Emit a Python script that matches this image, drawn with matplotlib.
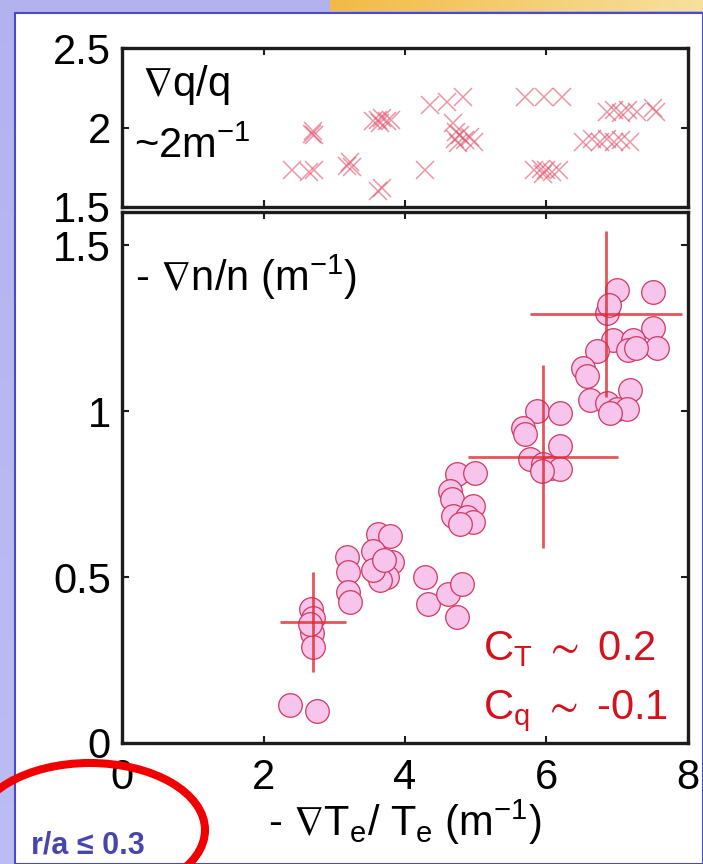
import numpy as np
import matplotlib
matplotlib.use("Agg")
import matplotlib.pyplot as plt
from matplotlib.patches import Ellipse, Rectangle

plt.rcParams['font.family'] = ['Liberation Sans', 'DejaVu Sans']
plt.rcParams['mathtext.fontset'] = 'custom'
plt.rcParams['mathtext.rm'] = 'Liberation Sans'
plt.rcParams['mathtext.it'] = 'Liberation Sans:italic'
plt.rcParams['mathtext.bf'] = 'Liberation Sans:bold'
plt.rcParams['mathtext.fallback'] = 'stixsans'

# ---- density-gradient scan (circles) ----
grad_te = [2.37, 2.76,
           2.67, 2.70, 2.68, 2.70, 2.66,
           3.18, 3.20, 3.20, 3.22,
           3.62, 3.79, 3.55, 3.81, 3.62, 3.74, 3.65, 3.55, 3.70,
           4.28, 4.33, 4.61, 4.80, 4.73,
           4.73, 4.99, 4.64, 4.66, 4.96, 4.68, 4.87, 4.96, 4.78,
           5.86, 6.19, 5.67, 5.69, 6.19, 5.77, 5.95, 6.07, 6.19, 5.93,
           6.99, 7.51, 6.85, 6.88, 7.51, 6.94, 7.22, 6.71, 7.15, 7.56,
           7.27, 6.52, 6.57, 6.61, 7.18, 6.85, 6.99, 7.14, 6.90]
grad_n = [0.114, 0.096,
          0.405, 0.376, 0.33, 0.29, 0.36,
          0.56, 0.515, 0.455, 0.425,
          0.63, 0.625, 0.58, 0.545, 0.51, 0.50, 0.49, 0.52, 0.55,
          0.50, 0.42, 0.45, 0.48, 0.38,
          0.81, 0.815, 0.76, 0.735, 0.715, 0.685, 0.68, 0.665, 0.66,
          1.00, 0.995, 0.95, 0.93, 0.895, 0.855, 0.84, 0.83, 0.825, 0.82,
          1.365, 1.36, 1.295, 1.32, 1.25, 1.215, 1.215, 1.18, 1.185, 1.19,
          1.19, 1.13, 1.105, 1.035, 1.065, 1.025, 1.005, 1.005, 0.995]

# representative error bars
err_te = [2.70, 5.95, 6.84]
err_n = [0.364, 0.863, 1.294]
err_te_width = [0.47, 1.06, 1.07]
err_n_width = [0.15, 0.275, 0.25]

# ---- q-gradient scan (crosses) ----
q_te = [2.40, 2.65, 2.72,
        2.68, 2.70, 2.72,
        3.18, 3.22, 3.25,
        3.55, 3.62, 3.68, 3.75, 3.80, 3.65,
        3.62, 3.68,
        4.28,
        4.35, 4.60, 4.82,
        4.68, 4.72, 4.70, 4.78, 4.85, 4.92, 4.98, 4.75,
        5.70, 5.96, 6.22,
        5.82, 5.92, 6.00, 6.08, 6.18, 5.95,
        6.52, 6.65, 6.76, 6.85, 6.95, 7.05, 7.18,
        6.85, 6.95, 7.05, 7.15, 7.28, 7.50, 7.55]
q_val = [1.73, 1.72, 1.73,
         1.96, 1.98, 1.95,
         1.76, 1.78, 1.75,
         2.04, 2.05, 2.06, 2.04, 2.05, 2.03,
         1.60, 1.62,
         1.735,
         2.14, 2.16, 2.19,
         2.03, 1.97, 1.93, 1.95, 1.92, 1.94, 1.91, 1.90,
         2.19, 2.19, 2.19,
         1.73, 1.74, 1.73, 1.72, 1.73, 1.71,
         1.91, 1.93, 1.91, 1.93, 1.91, 1.92, 1.91,
         2.10, 2.11, 2.09, 2.11, 2.10, 2.12, 2.10]

x_ticks = [0, 2, 4, 6, 8]
x_tick_labels = ['0', '2', '4', '6', '8']
q_ticks = [1.5, 2, 2.5]
q_tick_labels = ['1.5', '2', '2.5']
n_ticks = [0, 0.5, 1, 1.5]
n_tick_labels = ['0', '0.5', '1', '1.5']

W, H = 703, 864
fig = plt.figure(figsize=(W / 100, H / 100), dpi=100)

# ---- slide background ----
bg = fig.add_axes([0, 0, 1, 1], zorder=-10)
bg.set_xlim(0, W)
bg.set_ylim(H, 0)
bg.axis('off')
yy = np.linspace(0, 1, 200)[:, None]
lav = np.ones((200, 1, 3)) * np.array([0.70, 0.70, 0.94]) + yy[..., None] * np.array([0.04, 0.04, 0.02])
bg.imshow(np.clip(lav, 0, 1), extent=[0, W, H, 0], aspect='auto', zorder=0)
xx = np.linspace(0, 1, 200)[None, :, None]
gold = np.array([0.95, 0.73, 0.27]) * (1 - xx) + np.array([0.97, 0.88, 0.62]) * xx
bg.imshow(gold, extent=[330, W, 11, 0], aspect='auto', zorder=1)
bg.add_patch(Rectangle((15, 13), W - 15, H - 13, facecolor='white',
                       edgecolor='#4a4ac4', linewidth=1.5, zorder=2))

L, R = 122 / W, 688 / W
ax_q = fig.add_axes([L, 1 - 207 / H, R - L, (207 - 48) / H])
ax_n = fig.add_axes([L, 1 - 743 / H, R - L, (743 - 212) / H])

for ax in (ax_q, ax_n):
    ax.set_facecolor('white')
    for s in ax.spines.values():
        s.set_linewidth(2.4)
        s.set_color('#1c1c1c')
    ax.tick_params(direction='in', length=5, width=1.5, color='#1c1c1c',
                   top=True, right=True, labelsize=30, pad=8)
    ax.set_xlim(0, 8)
    ax.set_xticks(x_ticks)

# upper panel: q gradient
ax_q.plot(q_te, q_val, linestyle='none', marker='x', markersize=12.5,
          markeredgewidth=1.1, color='#e0506a', alpha=0.6)
ax_q.set_ylim(1.5, 2.5)
ax_q.set_yticks(q_ticks)
ax_q.set_yticklabels(q_tick_labels)
ax_q.tick_params(labelbottom=False)
ax_q.text(0.035, 0.70, '$\\nabla$q/q', transform=ax_q.transAxes, fontsize=30,
          va='baseline', ha='left')
ax_q.text(0.022, 0.31, '~2m$^{-1}$', transform=ax_q.transAxes, fontsize=30,
          va='baseline', ha='left')

# lower panel: density gradient vs temperature gradient
ax_n.plot(grad_te, grad_n, linestyle='none', marker='o', markersize=17,
          markerfacecolor='#f7c4ec', markeredgecolor='#d2385e',
          markeredgewidth=0.9, zorder=2)
ax_n.errorbar(err_te, err_n, xerr=err_te_width, yerr=err_n_width,
              fmt='none', ecolor='#e02a30', elinewidth=2, alpha=0.8,
              capsize=0, zorder=3)
ax_n.set_ylim(0, 1.6)
ax_n.set_yticks(n_ticks)
ax_n.set_yticklabels(n_tick_labels)
ax_n.set_xticklabels(x_tick_labels)
ax_n.tick_params(axis='x', pad=11)
ax_n.text(0.023, 0.851, '- $\\nabla$n/n (m$^{-1}$)', transform=ax_n.transAxes,
          fontsize=30, va='baseline', ha='left')
ax_n.text(0.638, 0.156, 'C$_\\mathregular{T}$ $\\sim$ 0.2', transform=ax_n.transAxes,
          fontsize=30, va='baseline', ha='left', color='#d4111c')
ax_n.text(0.638, 0.045, 'C$_\\mathregular{q}$ $\\sim$ -0.1', transform=ax_n.transAxes,
          fontsize=30, va='baseline', ha='left', color='#d4111c')
ax_n.set_xlabel('- $\\nabla$T$_\\mathregular{e}$/ T$_\\mathregular{e}$ (m$^{-1}$)',
                fontsize=30)
ax_n.xaxis.set_label_coords(0.5, (743 - 836) / 531)
ax_n.xaxis.label.set_va('baseline')

# ---- overlay: radius condition ----
ov = fig.add_axes([0, 0, 1, 1], zorder=10)
ov.set_xlim(0, W)
ov.set_ylim(H, 0)
ov.axis('off')
ov.patch.set_alpha(0)
ov.add_patch(Ellipse((90, 830), 230, 134, fill=False, edgecolor='#f00000',
                     linewidth=5.8))
ov.text(31, 853, 'r/a ≤ 0.3', fontsize=22, fontweight='bold', color='#4646ae',
        family=['Liberation Sans Narrow', 'Liberation Sans', 'DejaVu Sans'],
        va='baseline', ha='left')

fig.savefig('out.png', dpi=100)
